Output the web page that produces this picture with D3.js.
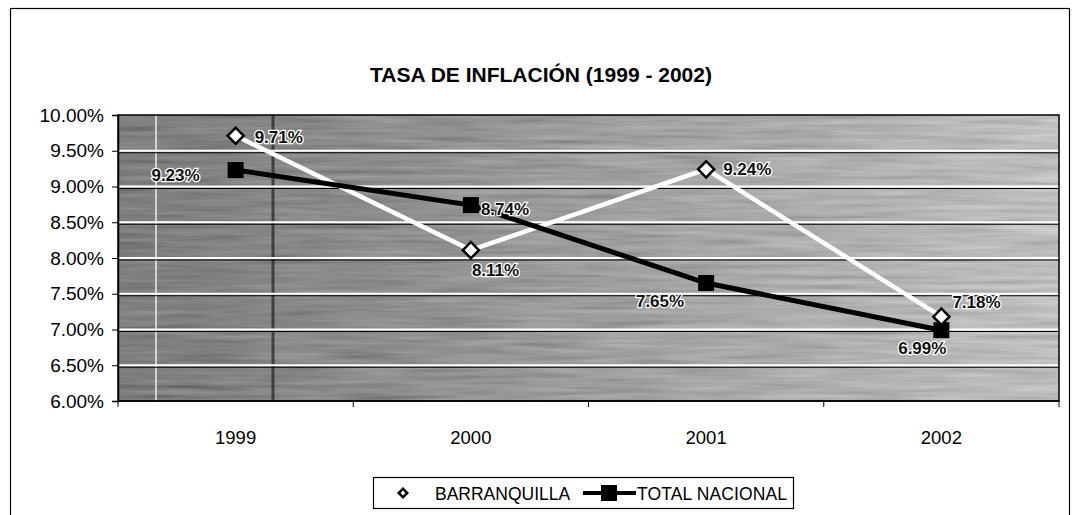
<!DOCTYPE html>
<html><head><meta charset="utf-8">
<script src="https://cdn.jsdelivr.net/npm/d3@7"></script>
<style>
body{margin:0;background:#fff;}
svg{display:block;font-family:"Liberation Sans",Arial,sans-serif;}
</style></head>
<body>
<svg id="chart" width="1072" height="515"></svg>
<script>
const years = ["1999","2000","2001","2002"];
const barranquilla = [9.71, 8.11, 9.24, 7.18];
const totalNacional = [9.23, 8.74, 7.65, 6.99];
const yTicks = [6.0, 6.5, 7.0, 7.5, 8.0, 8.5, 9.0, 9.5, 10.0];
const title = "TASA DE INFLACIÓN (1999 - 2002)";
const seriesNames = ["BARRANQUILLA", "TOTAL NACIONAL"];

const svg = d3.select("#chart");
const m = {left:118, right:1059, top:115, bottom:401};

svg.append("rect").attr("x",10.5).attr("y",8.5).attr("width",1059).attr("height",520)
  .attr("fill","none").attr("stroke","#000").attr("stroke-width",1.2);

svg.append("text").attr("x",541).attr("y",82).attr("text-anchor","middle")
  .attr("font-weight","bold").attr("font-size",21).text(title);

const x = d3.scaleBand().domain(years).range([m.left,m.right]);
const y = d3.scaleLinear().domain([6,10]).range([m.bottom,m.top]);

const defs = svg.append("defs");
const grad = defs.append("linearGradient").attr("id","bg");
[[0,"#3e3e3e"],[0.3,"#626262"],[0.55,"#878787"],[0.8,"#a8a8a8"],[1,"#c4c4c4"]].forEach(([o,c])=>
  grad.append("stop").attr("offset",o).attr("stop-color",c));
const f = defs.append("filter").attr("id","noise").attr("x",0).attr("y",0).attr("width","100%").attr("height","100%");
f.append("feTurbulence").attr("type","fractalNoise").attr("baseFrequency","0.012 0.2").attr("numOctaves",3).attr("seed",4);
f.append("feColorMatrix").attr("type","matrix")
  .attr("values","0.33 0.33 0.33 0 0  0.33 0.33 0.33 0 0  0.33 0.33 0.33 0 0  0 0 0 0 0.5");

svg.append("rect").attr("x",m.left).attr("y",m.top).attr("width",m.right-m.left).attr("height",m.bottom-m.top)
  .attr("fill","url(#bg)");
svg.append("rect").attr("x",m.left).attr("y",m.top).attr("width",m.right-m.left).attr("height",m.bottom-m.top)
  .attr("filter","url(#noise)");
svg.append("line").attr("x1",156).attr("x2",156).attr("y1",m.top).attr("y2",m.bottom)
  .attr("stroke","#e8e8e8").attr("stroke-width",2).attr("opacity",0.8);
svg.append("line").attr("x1",273).attr("x2",273).attr("y1",m.top).attr("y2",m.bottom)
  .attr("stroke","#111").attr("stroke-width",3).attr("opacity",0.6);

const grid = svg.append("g");
yTicks.slice(1,-1).forEach(t=>{
  grid.append("line").attr("x1",m.left).attr("x2",m.right).attr("y1",y(t)).attr("y2",y(t))
    .attr("stroke","#fff").attr("stroke-width",2);
  grid.append("line").attr("x1",m.left).attr("x2",m.right).attr("y1",y(t)+2).attr("y2",y(t)+2)
    .attr("stroke","#000").attr("stroke-width",1);
});
svg.append("rect").attr("x",m.left).attr("y",m.top).attr("width",m.right-m.left).attr("height",m.bottom-m.top)
  .attr("fill","none").attr("stroke","#000").attr("stroke-width",1.5);

const yAxis = d3.axisLeft(y).tickValues(yTicks).tickSize(6).tickPadding(8)
  .tickFormat(d=>d.toFixed(2)+"%");
const ga = svg.append("g").attr("transform",`translate(${m.left},0)`).call(yAxis);
ga.attr("font-size",19).attr("font-family","Liberation Sans, Arial, sans-serif");
ga.select(".domain").attr("stroke","#000").attr("stroke-width",1.5);
ga.selectAll("text").attr("fill","#000");

const xb = d3.scaleLinear().domain([0,4]).range([m.left,m.right]);
const gx = svg.append("g").attr("transform",`translate(0,${m.bottom})`);
gx.append("line").attr("x1",m.left).attr("x2",m.right).attr("stroke","#000").attr("stroke-width",1.5);
gx.selectAll("line.t").data(d3.range(5)).join("line").attr("class","t")
  .attr("x1",d=>xb(d)).attr("x2",d=>xb(d)).attr("y1",0).attr("y2",6).attr("stroke","#000");
gx.selectAll("text").data(years).join("text")
  .attr("x",d=>x(d)+x.bandwidth()/2).attr("y",43).attr("text-anchor","middle")
  .attr("font-size",18.5).text(d=>d);

const cx = i => x(years[i]) + x.bandwidth()/2;
const line = d3.line().x((d,i)=>cx(i)).y(d=>y(d));

svg.append("path").datum(barranquilla).attr("d",line).attr("fill","none")
  .attr("stroke","#fff").attr("stroke-width",4.5);
svg.append("path").datum(totalNacional).attr("d",line).attr("fill","none")
  .attr("stroke","#000").attr("stroke-width",5);

const diamond = d3.symbol().type(d3.symbolSquare).size(130);
svg.selectAll("rect.sq").data(totalNacional).join("rect").attr("class","sq")
  .attr("x",(d,i)=>cx(i)-8).attr("y",d=>y(d)-8).attr("width",16).attr("height",16).attr("fill","#000");
svg.selectAll("path.dm").data(barranquilla).join("path").attr("class","dm")
  .attr("d",diamond).attr("transform",(d,i)=>`translate(${cx(i)},${y(d)}) rotate(45)`)
  .attr("fill","#fff").attr("stroke","#000").attr("stroke-width",2.5);

const fmt = v => v.toFixed(2)+"%";
const bOff = [[19,7,"start"],[1,26,"start"],[17,6,"start"],[11,-9,"start"]];
const tOff = [[-36,11,"end"],[10,10,"start"],[-22,24,"end"],[5,24,"end"]];
function labels(vals, offs){
  svg.append("g").selectAll("text").data(vals).join("text")
    .attr("x",(d,i)=>cx(i)+offs[i][0]).attr("y",(d,i)=>y(d)+offs[i][1])
    .attr("text-anchor",(d,i)=>offs[i][2])
    .attr("font-size",17).attr("font-weight","bold")
    .attr("fill","#111").attr("stroke","#fff").attr("stroke-width",2.5)
    .attr("paint-order","stroke").text(fmt);
}
labels(barranquilla,bOff);
labels(totalNacional,tOff);

const lg = svg.append("g");
lg.append("rect").attr("x",373.5).attr("y",477.5).attr("width",420).attr("height",31)
  .attr("fill","#fff").attr("stroke","#000").attr("stroke-width",1.2);
lg.append("path").attr("d",d3.symbol().type(d3.symbolSquare).size(36))
  .attr("transform","translate(403,493) rotate(45)").attr("fill","#fff").attr("stroke","#000").attr("stroke-width",2.5);
lg.append("text").attr("x",435).attr("y",499.5).attr("font-size",17.5).text(seriesNames[0]);
lg.append("line").attr("x1",583).attr("x2",636).attr("y1",493).attr("y2",493).attr("stroke","#000").attr("stroke-width",4);
lg.append("rect").attr("x",601).attr("y",485).attr("width",16).attr("height",16).attr("fill","#000");
lg.append("text").attr("x",637).attr("y",499.5).attr("font-size",17.5).attr("textLength",150).text(seriesNames[1]);
</script>
</body></html>
